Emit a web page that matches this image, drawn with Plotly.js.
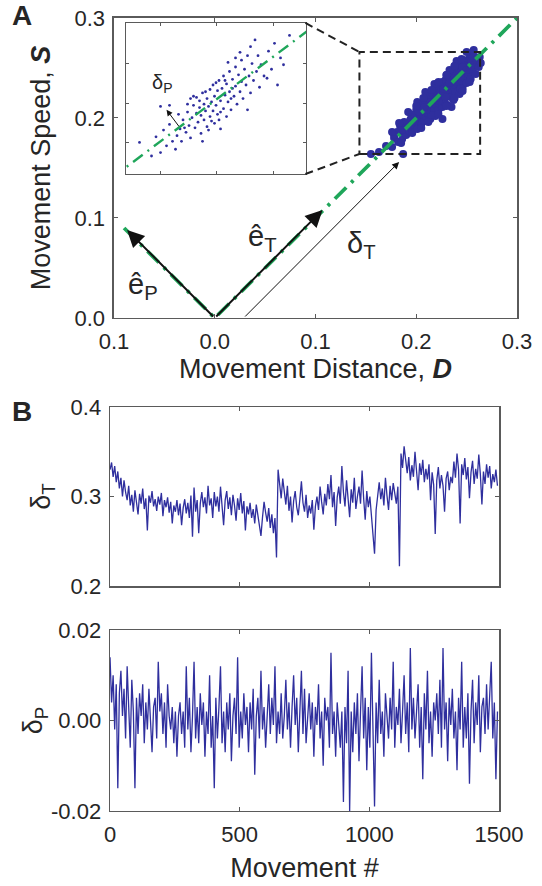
<!DOCTYPE html>
<html>
<head>
<meta charset="utf-8">
<script src="https://cdn.plot.ly/plotly-3.0.1.min.js"></script>
<style>html,body{margin:0;padding:0;background:#fff;}#chart{width:542px;height:886px;}</style>
</head>
<body>
<div id="chart"></div>
<script>
// ---- Panel A: movement distance vs speed (all trials) ----
const distD = [0.155,0.163,0.187,0.170,0.176,0.178,0.182,0.184,0.186,0.188,0.190,0.191,0.193,0.194,0.195,0.196,0.197,0.198,0.199,0.200,0.201,0.202,0.203,0.204,0.205,0.205,0.206,0.207,0.208,0.208,0.209,0.210,0.210,0.211,0.212,0.212,0.213,0.214,0.214,0.215,0.216,0.216,0.217,0.218,0.218,0.219,0.220,0.220,0.221,0.222,0.222,0.223,0.224,0.224,0.225,0.226,0.226,0.227,0.228,0.228,0.229,0.230,0.230,0.231,0.232,0.232,0.233,0.234,0.234,0.235,0.236,0.236,0.237,0.238,0.238,0.239,0.240,0.241,0.241,0.242,0.243,0.243,0.244,0.245,0.245,0.246,0.247,0.248,0.248,0.249,0.250,0.251,0.252,0.252,0.253,0.254,0.255,0.256,0.257,0.258,0.259,0.260,0.262,0.263,0.254,0.246,0.238,0.226,0.235,0.185,0.205,0.212,0.219,0.226,0.233,0.215,0.222,0.229,0.236,0.240,0.244,0.200,0.195,0.188,0.184,0.181,0.178,0.210,0.217,0.224,0.231,0.238,0.246,0.250,0.203,0.198,0.192,0.186,0.220,0.227,0.233,0.214,0.208,0.176,0.183,0.192,0.201,0.209,0.218,0.240,0.250,0.257,0.264,0.244,0.230,0.215,0.222,0.230,0.238,0.245,0.222,0.230,0.238,0.246,0.253,0.207,0.200,0.212,0.205];
const speedS = [0.164,0.166,0.164,0.172,0.171,0.180,0.176,0.186,0.179,0.190,0.183,0.194,0.187,0.198,0.190,0.185,0.200,0.193,0.204,0.196,0.189,0.207,0.199,0.211,0.202,0.194,0.209,0.203,0.214,0.197,0.206,0.218,0.201,0.210,0.204,0.216,0.208,0.221,0.199,0.212,0.206,0.224,0.215,0.209,0.219,0.202,0.226,0.213,0.218,0.208,0.229,0.221,0.214,0.232,0.224,0.211,0.219,0.234,0.226,0.216,0.238,0.222,0.230,0.213,0.236,0.227,0.241,0.221,0.232,0.244,0.228,0.238,0.218,0.246,0.234,0.226,0.242,0.250,0.232,0.239,0.224,0.247,0.236,0.252,0.243,0.230,0.249,0.240,0.256,0.246,0.235,0.253,0.244,0.259,0.250,0.239,0.257,0.248,0.262,0.253,0.244,0.258,0.251,0.261,0.264,0.258,0.252,0.199,0.211,0.175,0.215,0.222,0.228,0.236,0.248,0.203,0.217,0.221,0.233,0.236,0.241,0.208,0.203,0.196,0.192,0.186,0.183,0.208,0.222,0.226,0.232,0.240,0.251,0.248,0.206,0.197,0.191,0.188,0.220,0.229,0.235,0.216,0.211,0.186,0.195,0.206,0.216,0.226,0.234,0.257,0.266,0.268,0.255,0.229,0.243,0.228,0.236,0.243,0.252,0.259,0.204,0.212,0.220,0.227,0.236,0.220,0.212,0.196,0.190];
// ---- Inset: one subject's trials, enlarged ----
const insetD = [0.172,0.180,0.186,0.183,0.190,0.188,0.194,0.192,0.197,0.196,0.199,0.200,0.201,0.203,0.204,0.205,0.206,0.207,0.208,0.209,0.210,0.210,0.211,0.212,0.213,0.213,0.214,0.215,0.215,0.216,0.217,0.217,0.218,0.219,0.219,0.220,0.221,0.221,0.222,0.222,0.223,0.224,0.224,0.225,0.226,0.226,0.227,0.228,0.228,0.229,0.230,0.230,0.231,0.232,0.232,0.233,0.234,0.235,0.236,0.236,0.237,0.238,0.239,0.240,0.240,0.241,0.242,0.243,0.244,0.244,0.245,0.246,0.247,0.248,0.249,0.250,0.251,0.252,0.253,0.255,0.257,0.258,0.260,0.262,0.264,0.266,0.268,0.272,0.212,0.216,0.220,0.223,0.226,0.229,0.233,0.208,0.204,0.202,0.218,0.231,0.239,0.246,0.236,0.214,0.198,0.206,0.225,0.234,0.186,0.192];
const insetS = [0.185,0.173,0.176,0.190,0.182,0.196,0.186,0.201,0.191,0.179,0.197,0.186,0.205,0.194,0.212,0.200,0.189,0.207,0.218,0.198,0.211,0.225,0.203,0.216,0.193,0.209,0.229,0.219,0.205,0.213,0.224,0.199,0.217,0.232,0.208,0.221,0.213,0.236,0.202,0.226,0.218,0.231,0.210,0.240,0.222,0.197,0.233,0.215,0.244,0.227,0.208,0.237,0.221,0.248,0.230,0.214,0.241,0.226,0.252,0.235,0.219,0.245,0.230,0.258,0.239,0.224,0.250,0.236,0.214,0.262,0.244,0.229,0.255,0.240,0.276,0.248,0.262,0.234,0.254,0.244,0.242,0.266,0.250,0.273,0.236,0.260,0.254,0.280,0.222,0.230,0.204,0.238,0.212,0.240,0.224,0.226,0.219,0.198,0.196,0.256,0.265,0.270,0.260,0.186,0.210,0.224,0.205,0.233,0.217,0.218];
// reference diagonals (task axis e_T and perpendicular e_P)
const diagX = [-0.09, 0, 0.3];
const diagY = [0.09, 0, 0.3];
const insetLineX = [0.14, 0.30];
const insetLineY = [0.14, 0.30];

// ---- Panel B: deviations per movement (every 6th movement) ----
const moveStart = 0, moveStep = 6;
const deltaT = [0.330,0.338,0.322,0.334,0.316,0.328,0.309,0.321,0.300,0.318,
0.305,0.296,0.312,0.290,0.302,0.283,0.307,0.295,0.280,0.303,
0.292,0.309,0.286,0.298,0.262,0.301,0.293,0.306,0.289,0.297,
0.284,0.300,0.291,0.304,0.278,0.296,0.288,0.299,0.282,0.294,
0.270,0.290,0.283,0.296,0.279,0.292,0.268,0.287,0.297,0.281,
0.293,0.276,0.301,0.255,0.310,0.283,0.296,0.259,0.292,0.305,
0.288,0.299,0.281,0.312,0.290,0.298,0.276,0.305,0.289,0.300,
0.283,0.311,0.292,0.268,0.296,0.306,0.286,0.299,0.279,0.302,
0.290,0.273,0.298,0.285,0.304,0.281,0.295,0.262,0.289,0.280,
0.293,0.276,0.286,0.270,0.291,0.280,0.268,0.256,0.277,0.294,
0.282,0.272,0.287,0.265,0.280,0.259,0.276,0.232,0.330,0.312,
0.298,0.320,0.303,0.291,0.312,0.284,0.300,0.271,0.295,0.306,
0.288,0.279,0.297,0.317,0.293,0.283,0.302,0.276,0.290,0.281,
0.296,0.263,0.289,0.300,0.285,0.311,0.294,0.280,0.303,0.290,
0.314,0.297,0.324,0.288,0.305,0.267,0.299,0.311,0.292,0.334,
0.305,0.289,0.318,0.296,0.277,0.308,0.293,0.321,0.286,0.300,
0.311,0.292,0.329,0.298,0.274,0.306,0.288,0.300,0.279,0.262,
0.236,0.285,0.302,0.316,0.297,0.309,0.290,0.321,0.301,0.285,
0.312,0.296,0.315,0.302,0.292,0.311,0.222,0.348,0.332,0.356,
0.338,0.326,0.344,0.318,0.335,0.322,0.350,0.329,0.307,0.337,
0.324,0.341,0.316,0.331,0.319,0.336,0.296,0.327,0.313,0.258,
0.318,0.333,0.309,0.324,0.312,0.283,0.320,0.328,0.307,0.322,
0.315,0.339,0.321,0.348,0.330,0.270,0.336,0.324,0.343,0.319,
0.333,0.298,0.327,0.340,0.314,0.331,0.320,0.347,0.325,0.291,
0.328,0.314,0.336,0.321,0.334,0.309,0.325,0.316,0.330,0.312];
const deltaP = [0.014,0.004,0.010,-0.002,0.008,-0.015,0.006,0.011,0.001,0.007,
-0.004,0.012,0.003,-0.006,0.009,0.002,-0.015,0.005,-0.003,0.006,
0.001,0.008,-0.005,0.004,-0.002,0.007,0.000,-0.007,0.003,0.005,
-0.004,0.013,0.002,0.006,-0.003,0.004,-0.006,0.008,0.001,-0.002,
0.003,-0.005,0.002,-0.008,0.001,0.004,-0.003,0.002,-0.006,0.012,
-0.002,0.005,-0.007,0.001,0.013,-0.004,0.003,-0.005,0.006,-0.001,
0.004,-0.008,0.002,-0.003,0.010,-0.006,0.001,-0.015,0.005,-0.004,
0.003,0.012,-0.005,0.002,-0.007,0.004,-0.002,0.006,-0.009,0.001,
0.005,-0.003,0.014,-0.006,0.002,-0.004,0.006,-0.001,0.003,-0.007,
0.004,-0.002,0.007,-0.012,0.001,0.005,-0.004,0.011,-0.002,0.003,
-0.006,0.002,0.008,-0.003,0.005,-0.001,0.012,-0.005,0.002,-0.003,
0.006,-0.004,0.001,0.009,-0.002,0.004,-0.006,0.003,0.010,-0.001,
0.005,-0.007,0.002,0.011,-0.003,0.007,-0.005,0.001,0.006,-0.002,
0.004,-0.008,0.003,-0.001,0.008,-0.004,0.002,-0.010,0.005,0.000,
0.003,-0.006,0.015,-0.003,0.002,-0.008,0.004,-0.001,-0.006,0.002,
-0.018,0.003,-0.005,0.011,-0.020,0.002,-0.007,0.004,-0.003,0.006,
-0.009,0.002,0.012,-0.004,0.005,-0.011,0.003,-0.006,0.015,-0.002,
-0.019,0.004,-0.005,0.009,-0.003,0.002,-0.008,0.006,0.000,-0.004,
0.005,-0.002,0.013,-0.006,0.003,-0.001,0.007,-0.005,0.002,0.010,
-0.003,0.004,-0.007,0.016,-0.002,0.005,-0.004,0.001,0.008,-0.006,
0.003,-0.013,0.006,-0.002,0.011,-0.005,0.002,-0.008,0.004,0.000,
0.006,-0.003,0.009,-0.006,0.016,-0.002,0.004,-0.009,0.005,-0.001,
0.007,-0.004,0.002,-0.011,0.005,-0.002,0.013,-0.006,0.003,-0.004,
0.006,-0.014,0.002,0.009,-0.005,0.004,-0.001,0.010,-0.007,0.003,
0.005,-0.003,0.008,-0.002,0.006,0.013,-0.004,0.004,-0.013,0.002];

// tick labels
const aXTicks = [-0.1, 0, 0.1, 0.2, 0.3];
const aXTickText = ['0.1', '0.0', '0.1', '0.2', '0.3'];
const aYTicks = [0, 0.1, 0.2, 0.3];
const aYTickText = ['0.0', '0.1', '0.2', '0.3'];
const bTTicks = [0.2, 0.3, 0.4];
const bTTickText = ['0.2', '0.3', '0.4'];
const bPTicks = [-0.02, 0, 0.02];
const bPTickText = ['-0.02', '0.00', '0.02'];
const moveTicks = [0, 500, 1000, 1500];

const BLUE = '#2f2f9e';
const GREEN = '#1fa65a';
const FONT = 'Liberation Sans, Arial, Helvetica, sans-serif';
const TXT = '#262626';
const AX = '#5a5a5a';

function axisBase(extra) {
  return Object.assign({
    showline: true, mirror: 'ticks', linecolor: AX, linewidth: 1.5,
    ticks: 'inside', ticklen: 4, tickwidth: 1, tickcolor: AX,
    ticklabelstandoff: 3,
    showgrid: false, zeroline: false, fixedrange: true,
    tickfont: {family: FONT, size: 22, color: TXT}
  }, extra);
}

const traces = [
  {x: distD, y: speedS, type: 'scatter', mode: 'markers', xaxis: 'x', yaxis: 'y',
   marker: {color: BLUE, size: 8}, hoverinfo: 'skip'},
  {x: diagX, y: diagY, type: 'scatter', mode: 'lines', xaxis: 'x', yaxis: 'y',
   line: {color: GREEN, width: 3.8, dash: '16px,7px,3px,7px'}, hoverinfo: 'skip'},
  {x: insetD, y: insetS, type: 'scatter', mode: 'markers', xaxis: 'x2', yaxis: 'y2',
   marker: {color: BLUE, size: 2.8}, hoverinfo: 'skip'},
  {x: insetLineX, y: insetLineY, type: 'scatter', mode: 'lines', xaxis: 'x2', yaxis: 'y2',
   line: {color: GREEN, width: 2.4, dash: '12px,6px,2px,6px'}, hoverinfo: 'skip'},
  {x0: moveStart, dx: moveStep, y: deltaT, type: 'scatter', mode: 'lines', xaxis: 'x3', yaxis: 'y3',
   line: {color: BLUE, width: 1.3}, hoverinfo: 'skip'},
  {x0: moveStart, dx: moveStep, y: deltaP, type: 'scatter', mode: 'lines', xaxis: 'x4', yaxis: 'y4',
   line: {color: BLUE, width: 1.3}, hoverinfo: 'skip'}
];

const layout = {
  width: 542, height: 886, autosize: false,
  margin: {l: 0, r: 0, t: 0, b: 0},
  paper_bgcolor: '#fff', plot_bgcolor: '#fff',
  showlegend: false,
  font: {family: FONT, color: TXT},
  xaxis: axisBase({domain: [0.2103, 0.9539], range: [-0.1, 0.3], anchor: 'y',
    tickvals: aXTicks, ticktext: aXTickText,
    title: {text: 'Movement Distance, <b><i>D</i></b>', font: {family: FONT, size: 27, color: TXT}, standoff: 2}}),
  yaxis: axisBase({domain: [0.6411, 0.9797], range: [0, 0.3], anchor: 'x',
    tickvals: aYTicks, ticktext: aYTickText,
    title: {text: 'Movement Speed, <b><i>S</i></b>', font: {family: FONT, size: 27, color: TXT}, standoff: 16}}),
  xaxis2: axisBase({domain: [0.2325, 0.5646], range: [0.163, 0.283], anchor: 'y2',
    mirror: 'ticks', linewidth: 1.2, ticklen: 3, showticklabels: false,
    tickvals: [0.186, 0.223, 0.261]}),
  yaxis2: axisBase({domain: [0.8036, 0.9740], range: [0.157, 0.291], anchor: 'x2',
    mirror: 'ticks', linewidth: 1.2, ticklen: 3, showticklabels: false,
    tickvals: [0.185, 0.220, 0.255]}),
  xaxis3: axisBase({domain: [0.2030, 0.9207], range: [0, 1500], anchor: 'y3',
    tickvals: moveTicks, showticklabels: false}),
  yaxis3: axisBase({domain: [0.3386, 0.5406], range: [0.2, 0.4], anchor: 'x3',
    tickvals: bTTicks, ticktext: bTTickText,
    title: {text: 'δ<sub>T</sub>', font: {family: FONT, size: 27, color: TXT}, standoff: 12}}),
  xaxis4: axisBase({domain: [0.2030, 0.9207], range: [0, 1500], anchor: 'y4',
    tickvals: moveTicks,
    title: {text: 'Movement #', font: {family: FONT, size: 27, color: TXT}, standoff: 12}}),
  yaxis4: axisBase({domain: [0.0847, 0.2889], range: [-0.02, 0.02], anchor: 'x4',
    tickvals: bPTicks, ticktext: bPTickText,
    title: {text: 'δ<sub>P</sub>', font: {family: FONT, size: 27, color: TXT}, standoff: 0}}),
  shapes: [
    // white backing of the inset
    {type: 'rect', xref: 'x2 domain', yref: 'y2 domain', x0: 0, x1: 1, y0: 0, y1: 1,
     fillcolor: '#fff', line: {width: 0}, layer: 'below'},
    // zoom rectangle and connectors
    {type: 'rect', xref: 'x', yref: 'y', x0: 0.1436, x1: 0.2634, y0: 0.164, y1: 0.266,
     line: {color: '#222', width: 2, dash: '8px,5px'}, layer: 'above'},
    {type: 'line', xref: 'x', yref: 'y', x0: 0.090, y0: 0.295, x1: 0.1436, y1: 0.266,
     line: {color: '#222', width: 2, dash: '8px,5px'}, layer: 'above'},
    {type: 'line', xref: 'x', yref: 'y', x0: 0.090, y0: 0.144, x1: 0.1436, y1: 0.164,
     line: {color: '#222', width: 2, dash: '8px,5px'}, layer: 'above'}
  ],
  annotations: [
    {xref: 'paper', yref: 'paper', x: 10/542, y: 1 - 16/886, text: '<b>A</b>', showarrow: false,
     xanchor: 'left', yanchor: 'middle', font: {family: FONT, size: 28, color: TXT}},
    {xref: 'paper', yref: 'paper', x: 10/542, y: 1 - 411/886, text: '<b>B</b>', showarrow: false,
     xanchor: 'left', yanchor: 'middle', font: {family: FONT, size: 28, color: TXT}},
    // unit vectors
    {xref: 'x', yref: 'y', axref: 'x', ayref: 'y', x: -0.087, y: 0.088, ax: 0, ay: 0, text: '',
     showarrow: true, arrowhead: 2, arrowsize: 1.7, arrowwidth: 2, arrowcolor: '#111'},
    {xref: 'x', yref: 'y', axref: 'x', ayref: 'y', x: 0.107, y: 0.108, ax: 0, ay: 0, text: '',
     showarrow: true, arrowhead: 2, arrowsize: 1.7, arrowwidth: 2, arrowcolor: '#111'},
    {xref: 'x', yref: 'y', axref: 'x', ayref: 'y', x: 0.183, y: 0.156, ax: 0.0287, ay: 0, text: '',
     showarrow: true, arrowhead: 2, arrowsize: 1.4, arrowwidth: 1, arrowcolor: '#111'},
    {xref: 'x', yref: 'y', x: 0.0475, y: 0.080, text: 'ê<sub>T</sub>', showarrow: false,
     font: {family: FONT, size: 29, color: TXT}},
    {xref: 'x', yref: 'y', x: -0.071, y: 0.032, text: 'ê<sub>P</sub>', showarrow: false,
     font: {family: FONT, size: 29, color: TXT}},
    {xref: 'x', yref: 'y', x: 0.146, y: 0.073, text: 'δ<sub>T</sub>', showarrow: false,
     font: {family: FONT, size: 29, color: TXT}},
    // inset arrow
    {xref: 'x2', yref: 'y2', axref: 'x2', ayref: 'y2', x: 0.190, y: 0.214, ax: 0.199, ay: 0.198, text: '',
     showarrow: true, arrowhead: 2, arrowsize: 1.2, arrowwidth: 1, arrowcolor: '#111'},
    {xref: 'x2', yref: 'y2', x: 0.187, y: 0.237, text: 'δ<sub>P</sub>', showarrow: false,
     font: {family: FONT, size: 20, color: TXT}}
  ]
};

Plotly.newPlot('chart', traces, layout, {staticPlot: true, displayModeBar: false});
</script>
</body>
</html>
